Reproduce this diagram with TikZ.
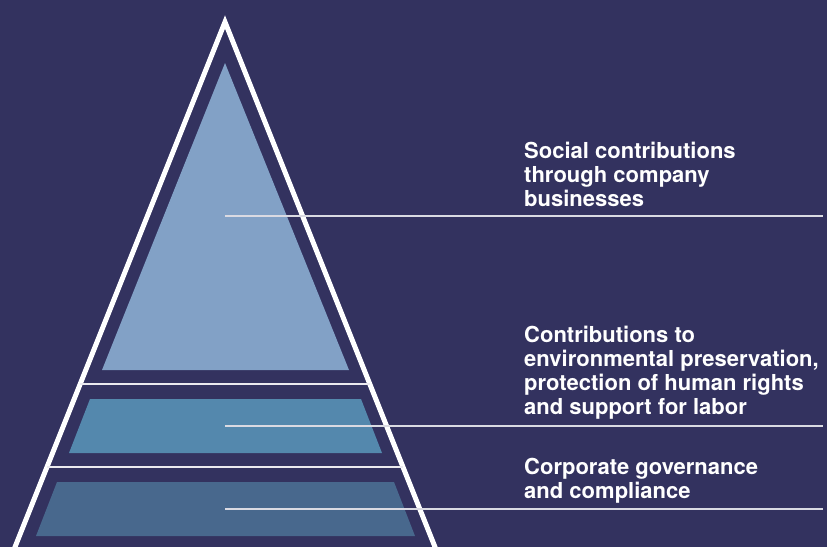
\documentclass[tikz,border=0pt]{standalone}
\usepackage{fontspec}
\setmainfont{TeX Gyre Heros}

\definecolor{navy}{HTML}{33325F}
\definecolor{tiertop}{HTML}{82A1C6}
\definecolor{tiermid}{HTML}{5488AD}
\definecolor{tierlow}{HTML}{48688D}

\begin{document}
\begin{tikzpicture}[x=1pt,y=-1pt]
  \tikzset{
    tier text/.style={anchor=base west,inner sep=0pt,align=left,text=white,
      font=\bfseries\fontsize{22}{24}\selectfont},
    leader/.style={draw=white!82!navy,line width=1.3pt},
    divider/.style={draw=white!90!navy,line width=1.6pt}
  }

  \fill[navy] (0,0) rectangle (827,547);
  \useasboundingbox (0,0) rectangle (827,547);

  % pyramid outline
  \begin{scope}
    \clip (0,0) rectangle (827,547);
    \draw[white,line width=5pt,miter limit=10] (5,572) -- (225,22) -- (445,572);
  \end{scope}

  % tiers
  \fill[tiertop] (225,63) -- (349,370) -- (102,370) -- cycle;
  \fill[tiermid] (90,399) -- (361,399) -- (382,453) -- (69,453) -- cycle;
  \fill[tierlow] (57,482) -- (394,482) -- (415,536) -- (36,536) -- cycle;

  \draw[divider] (80,384) -- (370,384);
  \draw[divider] (47,467) -- (403,467);

  % labels (anchored on the last line)
  \node[tier text] (social) at (524,206)
    {Social contributions\\through company\\businesses};
  \node[tier text] (environment) at (524,414)
    {Contributions to\\environmental preservation,\\protection of human rights\\and support for labor};
  \node[tier text] (governance) at (524,498)
    {Corporate governance\\and compliance};

  % leader lines
  \coordinate (social-in) at (225,216);
  \coordinate (social-out) at (823,216);
  \coordinate (environment-in) at (225,426);
  \coordinate (environment-out) at (823,426);
  \coordinate (governance-in) at (225,509);
  \coordinate (governance-out) at (823,509);

  \draw[leader] (social-in) -- (social-out);
  \draw[leader] (environment-in) -- (environment-out);
  \draw[leader] (governance-in) -- (governance-out);
\end{tikzpicture}
\end{document}
